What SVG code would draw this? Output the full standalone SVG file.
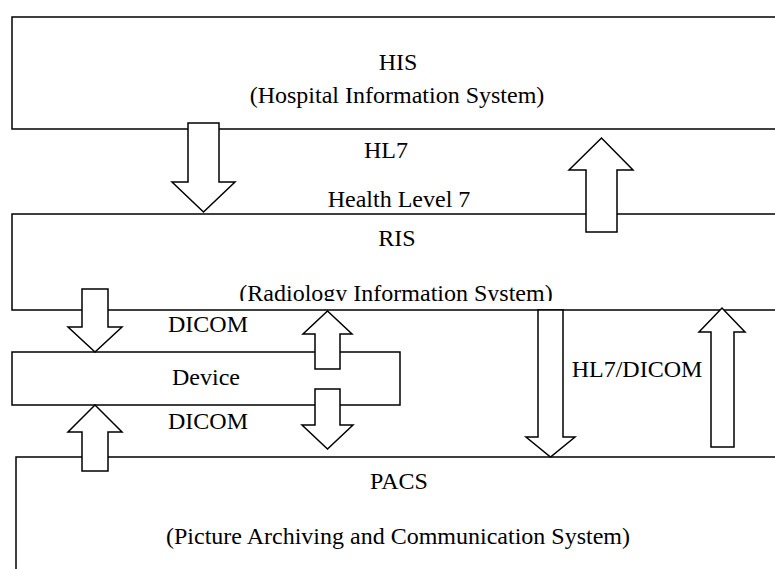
<svg xmlns="http://www.w3.org/2000/svg" width="775" height="569" viewBox="0 0 775 569">
<style>
.box{fill:#fff;stroke:#000;stroke-width:1.5}
.arr{fill:#fff;stroke:#000;stroke-width:1.5;stroke-linejoin:miter}
text{font-family:"Liberation Serif","Times New Roman",serif;font-size:24px;fill:#000;text-anchor:middle}
</style>
<defs>
<clipPath id="risclip"><rect x="0" y="200" width="775" height="101"/></clipPath>
</defs>
<rect width="775" height="569" fill="#fff"/>
<g id="HIS">
<rect class="box" x="12" y="17" width="800" height="112"/>
<text x="398" y="70">HIS</text>
<text x="397" y="103">(Hospital Information System)</text>
</g>
<g id="RIS">
<rect class="box" x="12" y="214" width="800" height="96"/>
<text x="397" y="246">RIS</text>
<text x="396" y="301" clip-path="url(#risclip)">(Radiology Information System)</text>
</g>
<g id="Device">
<rect class="box" x="12" y="352" width="388" height="53"/>
<text x="206" y="385">Device</text>
</g>
<g id="PACS">
<rect class="box" x="16" y="457" width="800" height="150"/>
<text x="399" y="489">PACS</text>
<text x="398" y="544">(Picture Archiving and Communication System)</text>
</g>
<g id="connectors">
<polygon class="arr" points="188,123 219,123 219,182 235,182 203.5,212 172,182 188,182"/>
<polygon class="arr" points="586,232 617,232 617,170 633,170 601.5,138 569,170 586,170"/>
<polygon class="arr" points="82,289 108,289 108,327 122,327 95,352 68,327 82,327"/>
<polygon class="arr" points="82,471 108,471 108,432 122,432 95,405 68,432 82,432"/>
<polygon class="arr" points="315,369 340,369 340,334 352,334 327.5,311 303,334 315,334"/>
<polygon class="arr" points="315,389 340,389 340,425 353,425 327.5,449 302,425 315,425"/>
<polygon class="arr" points="538,310 563,310 563,437 575,437 550.5,457 526,437 538,437"/>
<polygon class="arr" points="711,447 734,447 734,332 745,332 722,308 699,332 711,332"/>
<text x="386" y="158">HL7</text>
<text x="399" y="207">Health Level 7</text>
<text x="208" y="332">DICOM</text>
<text x="208" y="429">DICOM</text>
<text x="637" y="377">HL7/DICOM</text>
</g>
</svg>
